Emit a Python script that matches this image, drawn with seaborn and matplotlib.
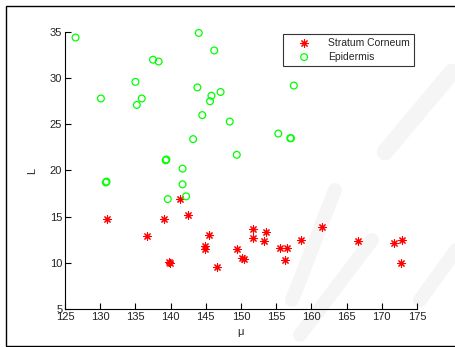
import numpy as np
import pandas as pd
import matplotlib.pyplot as plt
import seaborn as sns
from matplotlib.patches import Rectangle

# Stratum Corneum (red asterisks)
sc_mu = [130.9, 136.6, 139.1, 141.4, 142.5, 139.9, 139.8, 145.4, 144.9, 144.9,
         146.6, 149.4, 150.4, 150.2, 151.7, 151.7, 153.3, 153.6, 155.5, 156.6,
         156.2, 158.5, 161.5, 166.6, 171.8, 172.9, 172.7]
sc_L = [14.7, 12.9, 14.8, 16.9, 15.2, 10.0, 10.1, 13.0, 11.8, 11.5,
        9.6, 11.5, 10.4, 10.5, 13.7, 12.7, 12.4, 13.3, 11.6, 11.6,
        10.3, 12.5, 13.9, 12.4, 12.2, 12.5, 10.0]

# Epidermis (green circles)
ep_mu = [126.5, 144.0, 146.2, 137.5, 138.3, 135.0, 143.8, 145.8, 147.1, 145.6,
         130.1, 135.9, 135.2, 144.5, 148.4, 143.2, 149.4, 139.4, 139.3, 141.7,
         157.5, 155.3, 157.1, 157.0, 130.9, 130.8, 141.7, 142.2, 139.6]
ep_L = [34.4, 34.9, 33.0, 32.0, 31.8, 29.6, 29.0, 28.1, 28.5, 27.5,
        27.8, 27.8, 27.1, 26.0, 25.3, 23.4, 21.7, 21.2, 21.1, 20.2,
        29.2, 24.0, 23.5, 23.5, 18.8, 18.7, 18.5, 17.2, 16.9]

sns.set_theme(style="white")
plt.rcParams['font.family'] = ['Liberation Sans', 'DejaVu Sans']
plt.rcParams['font.size'] = 8

W, H = 456, 347
fig = plt.figure(figsize=(W / 100, H / 100), dpi=100)
fig.patch.set_facecolor('white')
ax = fig.add_axes([65 / W, 1 - 309 / H, (417 - 65) / W, (309 - 32) / H])
ax.set_facecolor('none')

# very faint watermark strokes in the background (pixel coords)
for (x0, y0, x1, y1, lw) in [(385, 152, 452, 72, 12), (335, 190, 292, 300, 10),
                             (300, 335, 372, 240, 10), (420, 300, 456, 250, 10)]:
    fig.add_artist(plt.Line2D([x0 / W, x1 / W], [1 - y0 / H, 1 - y1 / H], transform=fig.transFigure,
                              color='#f5f5f5', lw=lw, solid_capstyle='round', zorder=-5))

df_sc = pd.DataFrame({'mu': sc_mu, 'L': sc_L})
df_ep = pd.DataFrame({'mu': ep_mu, 'L': ep_L})

sns.scatterplot(data=df_sc, x='mu', y='L', ax=ax, marker=(8, 2, 0), s=28,
                color='#ff0000', edgecolor='#ff0000', linewidth=0.8, label='Stratum Corneum',
                zorder=3, clip_on=False)
sns.scatterplot(data=df_ep, x='mu', y='L', ax=ax, marker='o', s=24,
                facecolors='none', edgecolor='#00ff00', linewidth=0.9, label='Epidermis',
                zorder=3, clip_on=False)

ax.set_xlim(125, 175)
ax.set_ylim(5, 35)
ax.set_xticks(np.arange(125, 176, 5))
ax.set_yticks(np.arange(5, 36, 5))
ax.set_xlabel('\u03bc', fontsize=8, labelpad=4)
ax.set_ylabel('L', fontsize=8, labelpad=9)
for s in ['top', 'right']:
    ax.spines[s].set_visible(False)
for s in ['left', 'bottom']:
    ax.spines[s].set_color('black')
    ax.spines[s].set_linewidth(0.8)
ax.tick_params(direction='in', length=4, width=0.8, colors='black', labelsize=8,
               left=True, bottom=True, pad=2)
ax.tick_params(axis='both', labelcolor='#222222')

leg = ax.legend(loc='upper right', bbox_to_anchor=(414 / W, 1 - 34 / H),
                bbox_transform=fig.transFigure, frameon=True, fancybox=False,
                fontsize=7.5, borderpad=0.4, handletextpad=0.7, handlelength=3.2,
                labelspacing=0.35, borderaxespad=0)
leg.get_frame().set_edgecolor('black')
leg.get_frame().set_linewidth(0.8)

fig.add_artist(Rectangle((6 / W, 1 / H), 1 - 6 / W, 1 - 7 / H, transform=fig.transFigure,
                         fill=False, edgecolor='black', linewidth=1.0))

fig.savefig('out.png', dpi=100)
